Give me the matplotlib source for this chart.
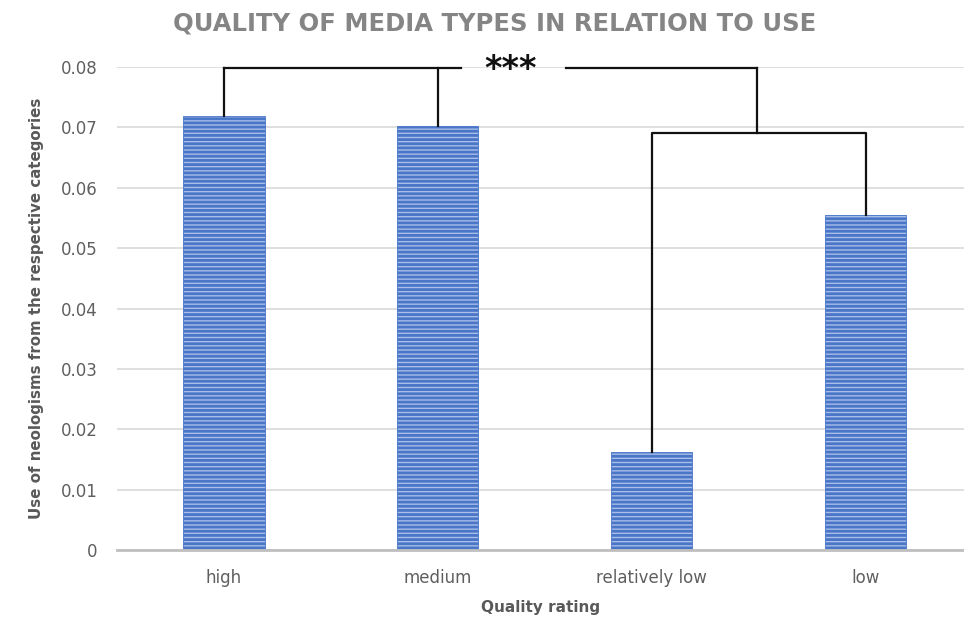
import matplotlib
matplotlib.use("Agg")
import matplotlib.pyplot as plt

# data
categories = ["high", "medium", "relatively low", "low"]
values = [0.0719, 0.0702, 0.0163, 0.0555]
yticks = [0, 0.01, 0.02, 0.03, 0.04, 0.05, 0.06, 0.07, 0.08]
ytick_labels = ["0", "0.01", "0.02", "0.03", "0.04", "0.05", "0.06", "0.07", "0.08"]

# bracket levels
top_level = 0.0798
low_pair_level = 0.0690

plt.rcParams["font.family"] = ["DejaVu Sans"]
plt.rcParams["hatch.linewidth"] = 2.0

W, H = 964, 624
fig = plt.figure(figsize=(W / 100, H / 100), dpi=100)
ax = fig.add_axes([117 / W, 74 / H, (W - 117) / W, (550 - 67) / H])

x = list(range(len(categories)))
ax.bar(x, values, width=0.38, color="#A8BDE8", edgecolor="#4A76C8",
       linewidth=0.6, hatch="----", zorder=2)

ax.set_xlim(-0.5, 3.46)
ax.set_ylim(0, 0.08)
ax.set_yticks(yticks)
ax.set_yticklabels(ytick_labels)
ax.set_xticks(x)
ax.set_xticklabels(categories)
ax.tick_params(axis="both", length=0, labelsize=12, labelcolor="#5F5F5F")
ax.tick_params(axis="y", pad=14)
ax.tick_params(axis="x", pad=14)

ax.grid(axis="y", color="#D9D9D9", linewidth=1.2, zorder=0)
ax.set_axisbelow(True)
for side in ["top", "right", "left"]:
    ax.spines[side].set_visible(False)
ax.spines["bottom"].set_color("#BFBFBF")
ax.spines["bottom"].set_linewidth(2)
ax.spines["bottom"].set_zorder(3)

ax.set_xlabel("Quality rating", fontsize=11, fontweight="bold", color="#595959", labelpad=9)
ax.set_ylabel("Use of neologisms from the respective categories", fontsize=10.8,
              fontweight="bold", color="#595959", labelpad=12)

fig.text(0.513, 0.962, "QUALITY OF MEDIA TYPES IN RELATION TO USE", ha="center",
         va="center", fontsize=17.5, fontweight="bold", color="#858585")

# significance brackets
lk = dict(color="#111111", linewidth=1.6, zorder=4, clip_on=False)
# lower bracket: relatively low vs low
ax.plot([2, 2, 3, 3], [values[2], low_pair_level, low_pair_level, values[3]], **lk)
# upper bracket: high, medium vs the lower pair
mid = 2.49
ax.plot([0, 0], [values[0], top_level], **lk)
ax.plot([1, 1], [values[1], top_level], **lk)
ax.plot([0, 1.11], [top_level, top_level], **lk)
ax.plot([1.60, mid], [top_level, top_level], **lk)
ax.plot([mid, mid], [top_level, low_pair_level], **lk)
ax.text(1.34, 0.0796, "***", ha="center", va="center", fontsize=24,
        fontweight="bold", color="#111111", zorder=5)

fig.savefig("out.png", dpi=100)
